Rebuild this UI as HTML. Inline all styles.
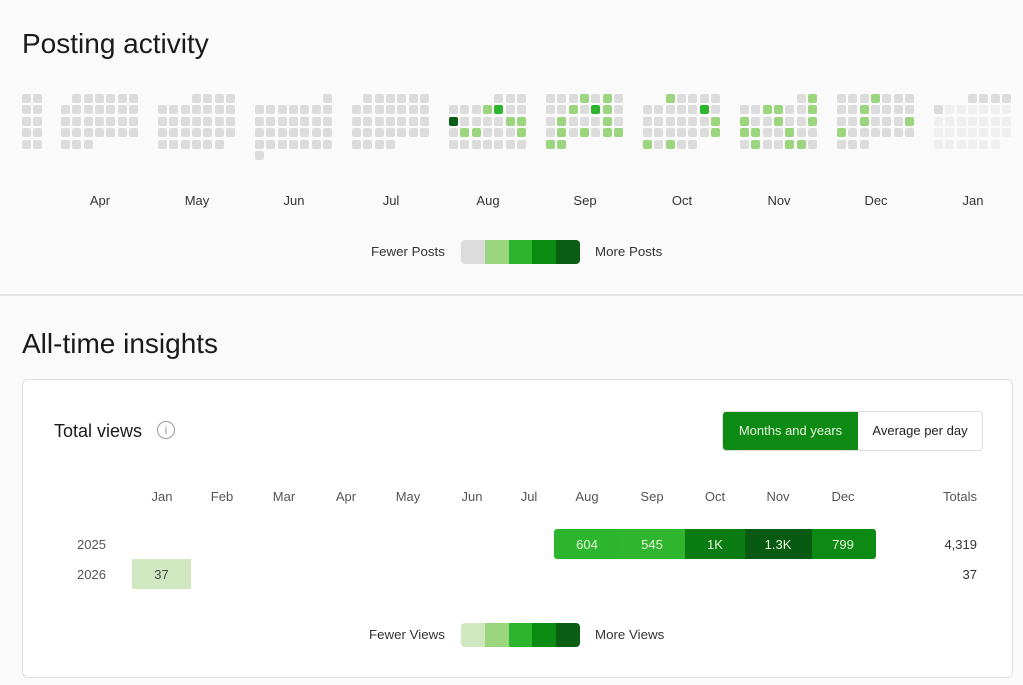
<!DOCTYPE html>
<html><head><meta charset="utf-8"><style>
body{margin:0;width:1023px;height:685px;background:#fafafa;font-family:"Liberation Sans",sans-serif;position:relative;overflow:hidden;color:#222}
.a{position:absolute}
.c{position:absolute;width:9px;height:9px;border-radius:2px;background:#dcdcdc}
.ml{position:absolute;top:193px;font-size:13px;color:#333;width:60px;text-align:center}
.t{position:absolute;font-size:13px;color:#555;text-align:center;z-index:3}
</style></head><body>
<div class="a" style="left:22px;top:28px;font-size:28px;color:#1a1a1a">Posting activity</div>
<div id="cal"></div>
<div class="a" style="left:371px;top:244px;font-size:13.3px;color:#333">Fewer Posts</div>
<div class="a" style="left:461px;top:240px;width:119px;height:24px;border-radius:4px;overflow:hidden;display:flex">
<div style="flex:1;background:#dcdcdc"></div><div style="flex:1;background:#9bd67f"></div><div style="flex:1;background:#2eb52e"></div><div style="flex:1;background:#0d8c14"></div><div style="flex:1;background:#0a5e14"></div></div>
<div class="a" style="left:595px;top:244px;font-size:13.3px;color:#333">More Posts</div>
<div class="a" style="left:0;top:294px;width:1023px;height:2px;background:#e4e4e4"></div>
<div class="a" style="left:22px;top:328px;font-size:28px;color:#1a1a1a">All-time insights</div>
<div class="a" style="left:22px;top:379px;width:989px;height:297px;background:#fff;border:1px solid #e0e0e0;border-radius:6px"></div>
<div class="a" style="left:54px;top:421px;font-size:18px;color:#1a1a1a">Total views</div>
<div class="a" style="left:157px;top:421px;width:16px;height:16px;border:1.5px solid #999;border-radius:50%;font-size:12px;color:#999;text-align:center;line-height:16px">i</div>
<div class="a" style="left:722px;top:411px;width:259px;height:38px;border:1px solid #ddd;border-radius:4px;overflow:hidden;background:#fff">
<div class="a" style="left:0;top:0;width:135px;height:38px;background:#0d8a14;color:#e8f5e0;font-size:13px;line-height:38px;text-align:center">Months and years</div>
<div class="a" style="left:135px;top:0;width:124px;height:38px;color:#222;font-size:13px;line-height:38px;text-align:center">Average per day</div></div>
<div id="tb"></div>
<div class="a" style="left:554px;top:529px;width:322px;height:30px;border-radius:3px;overflow:hidden">
<div class="a" style="left:0;width:65px;height:30px;background:#2eb52e"></div>
<div class="a" style="left:65px;width:66px;height:30px;background:#30b52e"></div>
<div class="a" style="left:131px;width:60px;height:30px;background:#0b7c13"></div>
<div class="a" style="left:191px;width:67px;height:30px;background:#085a12"></div>
<div class="a" style="left:258px;width:64px;height:30px;background:#0d8a14"></div></div>
<div class="a" style="left:132px;top:559px;width:59px;height:30px;background:#cfe8c0"></div>
<div class="a" style="left:461px;top:623px;width:119px;height:24px;border-radius:4px;overflow:hidden;display:flex">
<div style="flex:1;background:#cfe8c0"></div><div style="flex:1;background:#9bd67f"></div><div style="flex:1;background:#2eb52e"></div><div style="flex:1;background:#0d8c14"></div><div style="flex:1;background:#0a5e14"></div></div>
<div class="a" style="left:369px;top:627px;font-size:13.3px;color:#333">Fewer Views</div>
<div class="a" style="left:595px;top:627px;font-size:13.3px;color:#333">More Views</div>
<script>
var G='#dcdcdc',L='#9bd67f',M='#2eb52e',D='#0a5e14',F='#efefef';
function full(){return [0,1,2,3,4,5,6];}
function rng(a,b){var r=[];for(var i=a;i<=b;i++)r.push(i);return r;}
var months=[
{x:22,rows:[[0,1],[0,1],[0,1],[0,1],[0,1]]},
{x:61,rows:[rng(1,6),full(),full(),full(),rng(0,2)]},
{x:158,rows:[rng(3,6),full(),full(),full(),rng(0,5)]},
{x:255,rows:[[6],full(),full(),full(),full(),[0]]},
{x:352,rows:[rng(1,6),full(),full(),full(),rng(0,3)]},
{x:449,rows:[rng(4,6),full(),full(),full(),full()],col:{'1,3':L,'1,4':M,'2,0':D,'2,5':L,'2,6':L,'3,1':L,'3,2':L,'3,6':L}},
{x:546,rows:[full(),full(),full(),full(),rng(0,1)],col:{'0,3':L,'0,5':L,'1,2':L,'1,4':M,'1,5':L,'2,1':L,'2,5':L,'3,1':L,'3,3':L,'3,5':L,'3,6':L,'4,0':L,'4,1':L}},
{x:643,rows:[rng(2,6),full(),full(),full(),rng(0,4)],col:{'0,2':L,'1,5':M,'2,6':L,'3,6':L,'4,0':L,'4,2':L}},
{x:740,rows:[rng(5,6),full(),full(),full(),full()],col:{'0,6':L,'1,2':L,'1,3':L,'1,6':L,'2,0':L,'2,3':L,'2,6':L,'3,0':L,'3,1':L,'3,4':L,'4,1':L,'4,4':L,'4,5':L}},
{x:837,rows:[full(),full(),full(),full(),rng(0,2)],col:{'0,3':L,'1,2':L,'2,2':L,'2,6':L,'3,0':L}},
{x:934,rows:[rng(3,6),full(),full(),full(),rng(0,5)],jan:1}
];
var names=['','Apr','May','Jun','Jul','Aug','Sep','Oct','Nov','Dec','Jan'];
var h='';
months.forEach(function(m,i){
 m.rows.forEach(function(r,ri){r.forEach(function(c){
  var col=G;if(m.col&&m.col[ri+','+c])col=m.col[ri+','+c];
  if(m.jan&&!(ri==0||(ri==1&&c==0)))col=F;
  h+='<div class="c" style="left:'+(m.x+c*11.35).toFixed(1)+'px;top:'+(94+ri*11.4).toFixed(1)+'px;background:'+col+'"></div>';});});
 if(names[i])h+='<div class="ml" style="left:'+(m.x+9)+'px">'+names[i]+'</div>';
});
document.getElementById('cal').innerHTML=h;
var mo=['Jan','Feb','Mar','Apr','May','Jun','Jul','Aug','Sep','Oct','Nov','Dec'],cx=[162,222,284,346,408,472,529,587,652,715,778,843];
var s='';
mo.forEach(function(n,i){s+='<div class="t" style="left:'+(cx[i]-30)+'px;top:489px;width:60px">'+n+'</div>';});
s+='<div class="t" style="left:917px;top:489px;width:60px;text-align:right">Totals</div>';
s+='<div class="t" style="left:77px;top:537px">2025</div><div class="t" style="left:77px;top:567px">2026</div>';
var v=['604','545','1K','1.3K','799'],vx=[587,652,715,778,843];
v.forEach(function(t,i){s+='<div class="t" style="left:'+(vx[i]-30)+'px;top:537px;width:60px;color:#e6f5dc">'+t+'</div>';});
s+='<div class="t" style="left:132px;top:567px;width:59px;color:#444">37</div>';
s+='<div class="t" style="left:897px;top:537px;width:80px;text-align:right;color:#333">4,319</div>';
s+='<div class="t" style="left:897px;top:567px;width:80px;text-align:right;color:#333">37</div>';
document.getElementById('tb').innerHTML=s;
</script>
</body></html>
